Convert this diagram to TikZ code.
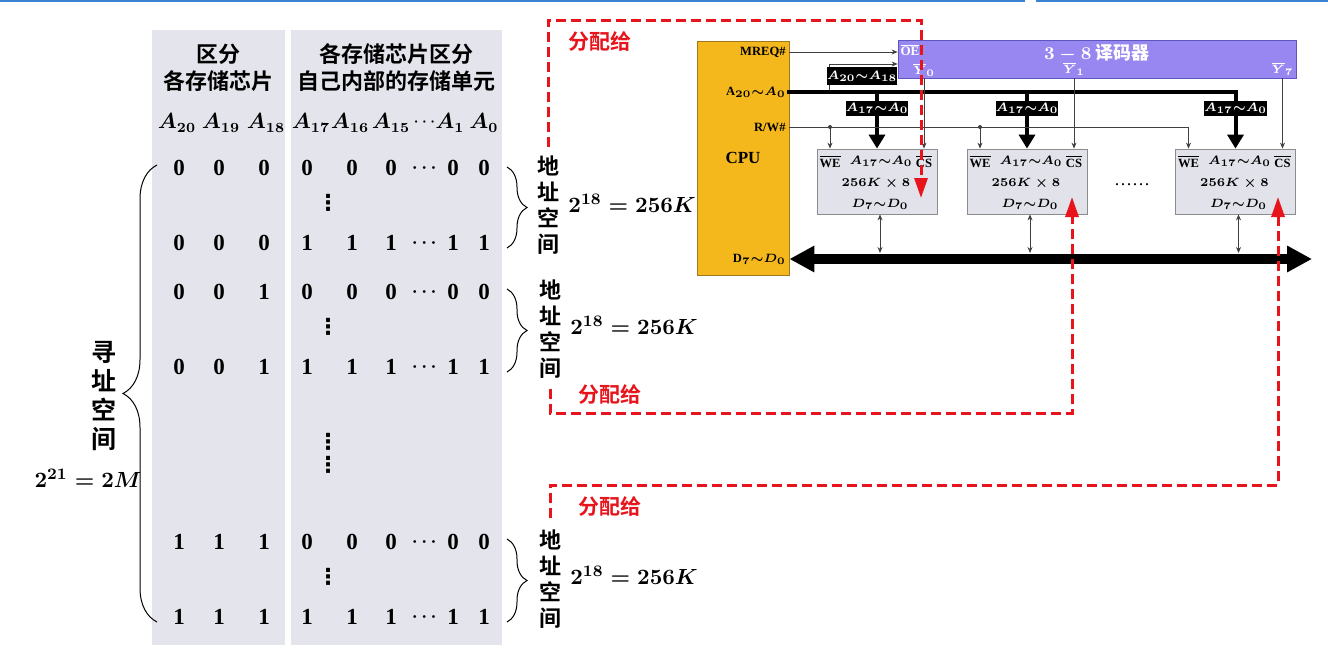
\documentclass[tikz,border=0pt]{standalone}
\usepackage{amsmath}
\usepackage{fontspec}
\setmainfont{Liberation Serif}
\newfontfamily\cjk{Noto Sans CJK SC Bold}
\newfontfamily\sym{DejaVu Sans}
\usetikzlibrary{arrows.meta,calc,positioning,decorations.pathreplacing}

\definecolor{panelgray}{RGB}{228,229,236}
\definecolor{cpugold}{RGB}{245,184,28}
\definecolor{cpuedge}{RGB}{160,120,30}
\definecolor{decpurple}{RGB}{152,135,240}
\definecolor{decedge}{RGB}{95,85,190}
\definecolor{chipgray}{RGB}{226,227,234}
\definecolor{allocred}{RGB}{232,20,28}
\definecolor{topblue}{RGB}{60,130,210}

\newcommand{\til}{{\sim}}

\begin{document}
\begin{tikzpicture}[x=0.5pt,y=-0.5pt,
  bit/.style={font=\fontsize{11.5}{13}\selectfont\bfseries\boldmath, inner sep=0pt},
  colhd/.style={font=\fontsize{10.5}{12}\selectfont\bfseries\boldmath, inner sep=0pt},
  hdots/.style={font=\fontsize{7.5}{9}\selectfont\bfseries\boldmath, inner sep=0pt},
  vdot/.style={font=\fontsize{11}{12}\selectfont\sym\bfseries, inner sep=0pt},
  hdr/.style={font=\fontsize{11}{13.5}\selectfont\cjk, align=center},
  vlab/.style={font=\fontsize{11}{13}\selectfont\cjk, align=center, inner sep=0pt},
  size/.style={font=\fontsize{11}{13}\selectfont\bfseries\boldmath, anchor=west, inner sep=0pt},
  curly/.style={decorate, decoration={brace, amplitude=#1}, line width=0.5pt},
  alloc/.style={draw=allocred, line width=1.5pt, dash pattern=on 5pt off 2.5pt, -{Triangle[width=6.5pt,length=10pt]}},
  alloclbl/.style={text=allocred, font=\fontsize{10.5}{12}\selectfont\cjk, inner sep=0pt},
  cpubox/.style={draw=cpuedge, fill=cpugold, minimum width=46pt, minimum height=117pt, font=\fontsize{8.5}{10}\selectfont\bfseries},
  pin/.style={font=\fontsize{6.3}{7}\selectfont\bfseries\boldmath, anchor=east, inner sep=0pt},
  decbox/.style={draw=decedge, fill=decpurple, minimum width=199pt, minimum height=19pt},
  dectxt/.style={text=white, font=\fontsize{6.5}{8}\selectfont\bfseries\boldmath, inner sep=0pt},
  chip/.style={draw=black!45, fill=chipgray, minimum width=60pt, minimum height=32.5pt, inner sep=0pt},
  chiptxt/.style={font=\fontsize{6.3}{7.5}\selectfont\bfseries\boldmath, inner sep=0pt},
  blk/.style={fill=black, text=white, font=\fontsize{5.6}{7}\selectfont\bfseries\boldmath, inner sep=0pt, minimum height=7.5pt, minimum width=23pt},
  wire/.style={draw=black!75, line width=0.4pt},
  sig/.style={wire, -{Stealth[length=3pt,width=2.5pt]}},
  dlink/.style={wire, {Stealth[length=3pt,width=2.5pt]}-{Stealth[length=3pt,width=2.5pt]}},
  abus/.style={line width=2pt, line cap=rect},
  addr/.style={line width=2pt, -{Triangle[width=8pt,length=7pt]}},
  dbus/.style={line width=5pt, {Triangle[width=12.5pt,length=12.5pt]}-{Triangle[width=12.5pt,length=12.5pt]}}
]
\fill[white] (0,0) rectangle (1328,664);
\useasboundingbox (0,0) rectangle (1328,664);
\fill[topblue] (0,0) rectangle (1025,2);
\fill[topblue] (1036,0) rectangle (1328,2);

% address table
\fill[panelgray] (152,30) rectangle (285,645);
\fill[panelgray] (291,30) rectangle (502,645);
\node[hdr] (h1) at (218,68) {区分\\各存储芯片};
\node[hdr] (h2) at (396,68) {各存储芯片区分\\自己内部的存储单元};
\foreach \x/\s [count=\i] in {177/20,221/19,266/18,311/17,350/16,391/15,450/1,484/0}
  \node[colhd] (col\i) at (\x,123) {$A_{\s}$};
\node[hdots] (coldots) at (426,122) {$\cdots$};
\foreach \y/\a/\b/\c/\d [count=\r] in {168/0/0/0/0,243/0/0/0/1,292/0/0/1/0,367/0/0/1/1,542/1/1/1/0,617/1/1/1/1} {
  \foreach \x/\v [count=\k] in {179/\a,219/\b,264/\c,307/\d,352/\d,391/\d,453/\d,484/\d}
    \node[bit] (b\r-\k) at (\x,\y) {\v};
  \node[hdots, font=\fontsize{9}{10}\selectfont\bfseries\boldmath] (dots\r) at (426,\y) {$\cdots$};
}
\foreach \y [count=\i] in {203,327,442,465,577}
  \node[vdot] (vd\i) at (328,\y) {⋮};

% braces
\draw[curly=17pt] (157,622) -- (157,165);
\node[vlab, font=\fontsize{12.5}{14.5}\selectfont\cjk] (space) at (104,396) {寻\\址\\空\\间};
\node[size, anchor=center] (total) at (88,478) {$2^{21}=2M$};
\draw[curly=10pt] (507,167) -- (507,248);
\draw[curly=10pt] (507,289) -- (507,372);
\draw[curly=10pt] (507,539) -- (507,622);
\node[vlab] (g1) at (548,205) {地\\址\\空\\间};
\node[vlab] (g2) at (550,329) {地\\址\\空\\间};
\node[vlab] (g3) at (550,579) {地\\址\\空\\间};
\node[size] (s1) at (568,203) {$2^{18}=256K$};
\node[size] (s2) at (570,325) {$2^{18}=256K$};
\node[size] (s3) at (570,575) {$2^{18}=256K$};

% CPU, decoder, chips
\node[cpubox] (cpu) at (743,158) {CPU};
\node[pin] (mreq) at (786,52) {MREQ\#};
\node[pin] (ain) at (786,92) {A$_{20}\til A_0$};
\node[pin] (rw) at (786,127) {R/W\#};
\node[pin] (din) at (786,259) {D$_7\til D_0$};
\node[decbox] (dec) at (1097,59) {};
\node[dectxt] (oe) at (910,50) {$\overline{\textbf{OE}}$};
\node[dectxt, font=\fontsize{9}{10}\selectfont\bfseries\boldmath] (dtitle) at (1097,53) {$3-8$ {\cjk 译码器}};
\foreach \n/\x in {1/877,2/1027,3/1235.5} {
  \node[chip] (c\n) at (\x,181.5) {};
  \node[chiptxt] (we\n) at ($(c\n)+(-47,-20)$) {$\overline{\textbf{WE}}$};
  \node[chiptxt] (ad\n) at ($(c\n)+(4,-20)$) {$A_{17}\til A_0$};
  \node[chiptxt] (cs\n) at ($(c\n)+(47,-20)$) {$\overline{\textbf{CS}}$};
  \node[chiptxt] (sz\n) at ($(c\n)+(-1,1.5)$) {$256K\times 8$};
  \node[chiptxt] (dd\n) at ($(c\n)+(3,23)$) {$D_7\til D_0$};
}
\node[dectxt] (y0) at (cs1 |- 0,70) {$\overline{Y}_0$};
\node[dectxt] (y1) at (cs2 |- 0,69) {$\overline{Y}_1$};
\node[dectxt] (y7) at (cs3 |- 0,69) {$\overline{Y}_7$};
\node[chiptxt, font=\fontsize{9}{10}\selectfont] (more) at (1132,185) {\dots\dots};

% control and address lines
\draw[sig] (cpu.east |- mreq) -- (dec.west |- mreq);
\coordinate (tap) at ($(cpu.east |- ain)+(40,0)$);
\draw[sig] (tap) |- (dec.west |- 0,64);
\draw[abus] (cpu.east |- ain) -- (c3.north |- ain);
\node[blk, minimum width=30pt, minimum height=9pt] (a2018) at (862,76) {$A_{20}\til A_{18}$};
\foreach \n in {1,2,3} {
  \draw[addr] (c\n.north |- ain) -- (c\n.north);
  \node[blk] (lb\n) at (c\n.north |- 0,108) {$A_{17}\til A_0$};
  \draw[sig] (cs\n |- dec.south) -- (cs\n |- c\n.north);
  \draw[dlink] (dd\n |- c\n.south) -- ($(dd\n |- din)+(0,-6)$);
}
\draw[sig] (cpu.east |- rw) -| (we3 |- c3.north);
\foreach \n in {1,2} {
  \fill[black!75] (we\n |- rw) circle (1pt);
  \draw[sig] (we\n |- rw) -- (we\n |- c\n.north);
}
\coordinate (dend) at (1312,0 |- din);
\draw[dbus] (cpu.east |- din) -- (dend);

% allocation
\coordinate (tip1) at (921,198);
\coordinate (tip2) at (1072,197);
\coordinate (tip3) at (1278,197);
\node[alloclbl] (al1) at (600,42) {分配给};
\node[alloclbl] (al2) at (610,395) {分配给};
\node[alloclbl] (al3) at (610,507) {分配给};
\draw[alloc] ($(g1.north)+(0,-8)$) |- (tip1 |- 0,20) -- (tip1);
\draw[alloc] ($(g2.south)+(0,10)$) |- (tip2 |- 0,413) -- (tip2);
\draw[alloc] ($(g3.north)+(0,-11)$) |- (tip3 |- 0,485) -- (tip3);
\end{tikzpicture}
\end{document}
